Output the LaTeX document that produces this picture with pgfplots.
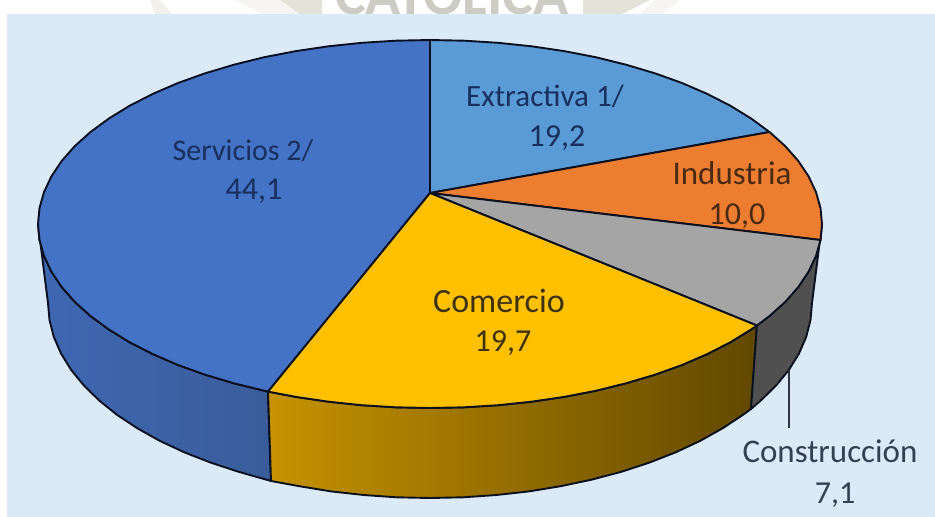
\documentclass[border=0pt]{standalone}
\usepackage{pgfplots}
\pgfplotsset{compat=1.18}
\usepackage{fontspec}
\setmainfont{Carlito}
\definecolor{bgblue}{HTML}{DCE9F6}
\definecolor{wm}{HTML}{E4E3DA}
\definecolor{serv}{HTML}{4472C4}
\definecolor{servA}{HTML}{3F68B2}
\definecolor{servB}{HTML}{3A5C9A}
\definecolor{ext}{HTML}{5B9BD5}
\definecolor{ind}{HTML}{ED7D31}
\definecolor{con}{HTML}{A5A5A5}
\definecolor{conW}{HTML}{505050}
\definecolor{com}{HTML}{FFC000}
\definecolor{comA}{HTML}{C69200}
\definecolor{comM}{HTML}{8C6A00}
\definecolor{comB}{HTML}{614800}
\definecolor{edge}{HTML}{0A1020}
\definecolor{txt}{HTML}{34404F}
\definecolor{tblue}{HTML}{17305F}
\definecolor{tbrown}{HTML}{4A2A12}
\definecolor{tgold}{HTML}{3D3310}
\begin{document}
\begin{tikzpicture}
\begin{axis}[
  scale only axis, width=935pt, height=517pt,
  xmin=0, xmax=935, ymin=0, ymax=517, y dir=reverse,
  hide axis, clip=true,
  every axis plot/.append style={line join=round},
]
% page and background
\addplot[fill=white, draw=none] coordinates {(0,0)(935,0)(935,517)(0,517)} --cycle;
\addplot[fill=wm!50!white, draw=none] coordinates {(150,0)(160,0)(172,14)(155,14)} --cycle;
\addplot[fill=wm!35!white, draw=none] coordinates {(235,0)(280,0)(300,14)(262,14)} --cycle;
\addplot[fill=wm, draw=none] coordinates {(280,0)(322,0)(322,14)(300,14)} --cycle;
\addplot[fill=wm, draw=none] coordinates {(583,0)(650,0)(622,14)(583,14)} --cycle;
\addplot[fill=wm!35!white, draw=none] coordinates {(655,0)(680,0)(662,14)(640,14)} --cycle;
\node[overlay, text=wm!90!black, font=\fontsize{58}{58}\bfseries\selectfont, anchor=base, inner sep=0pt] at (axis cs:452,14) {CATOLICA};
\addplot[fill=bgblue, draw=none] coordinates {(7,14)(935,14)(935,517)(7,517)} --cycle;
% walls
\addplot[left color=servA, right color=servB, draw=edge, line width=1.9pt] coordinates {
(38,224)(39.5,240)(44,255.9)(51.4,271.6)(61.6,286.9)(74.7,301.8)(90.5,316)(108.9,329.5)(129.7,342.3)(152.8,354.1)(178,365)(205.1,374.7)(234,383.3)(268,391.6)
(271,481)(239,471.9)(210.9,462.7)(184.5,452.4)(159.9,440.9)(137.4,428.3)(117.1,414.9)(99.2,400.5)(83.8,385.4)(71,369.7)(61,353.5)(53.8,336.9)(49.5,320)(48,303)} --cycle;
\addplot[left color=comA, middle color=comM, right color=comB, draw=edge, line width=1.9pt] coordinates {
(268,391.6)(295.9,396.9)(328.5,401.7)(361.9,405.2)(395.8,407.3)(430,408)(464.2,407.3)(498.1,405.2)(531.5,401.7)(564.1,396.9)(595.7,390.8)(626,383.3)(654.9,374.7)(682,365)(707.2,354.1)(730.3,342.3)(751.1,329.5)(756.9,325.5)
(751,409)(742.9,414.9)(722.6,428.3)(700.1,440.9)(675.5,452.4)(649.1,462.7)(621,471.9)(591.4,479.7)(560.6,486.2)(528.9,491.4)(496.3,495)(463.3,497.3)(430,498)(396.7,497.3)(363.7,495)(331.1,491.4)(299.4,486.2)(271,481)} --cycle;
\addplot[fill=conW, draw=edge, line width=1.9pt] coordinates {
(756.9,325.5)(769.5,316)(785.3,301.8)(798.4,286.9)(808.6,271.6)(816,255.9)(820.5,240)(822,224)
(812,303)(810.5,320)(806.2,336.9)(799,353.5)(789,369.7)(776.2,385.4)(760.8,400.5)(751,409)} --cycle;
% top slices
\addplot[fill=serv, draw=edge, line width=1.9pt] coordinates {
(430,193)(268,391.6)(234,383.3)(205.1,374.7)(178,365)(152.8,354.1)(129.7,342.3)(108.9,329.5)(90.5,316)(74.7,301.8)(61.6,286.9)(51.4,271.6)(44,255.9)(39.5,240)(38,224)(39.5,208)(44,192.1)(51.4,176.4)(61.6,161.1)(74.7,146.2)(90.5,132)(108.9,118.5)(129.7,105.7)(152.8,93.9)(178,83)(205.1,73.3)(234,64.7)(264.3,57.2)(295.9,51.1)(328.5,46.3)(361.9,42.8)(395.8,40.7)(430,40)} --cycle;
\addplot[fill=ext, draw=edge, line width=1.9pt] coordinates {
(430,193)(430,40)(464.2,40.7)(498.1,42.8)(531.5,46.3)(564.1,51.1)(595.7,57.2)(626,64.7)(654.9,73.3)(682,83)(707.2,93.9)(730.3,105.7)(751.1,118.5)(769.5,132)} --cycle;
\addplot[fill=ind, draw=edge, line width=1.9pt] coordinates {
(430,193)(769.5,132)(785.3,146.2)(798.4,161.1)(808.6,176.4)(816,192.1)(820.5,208)(822,224)(820.5,240)} --cycle;
\addplot[fill=con, draw=edge, line width=1.9pt] coordinates {
(430,193)(820.5,240)(816,255.9)(808.6,271.6)(798.4,286.9)(785.3,301.8)(769.5,316)(756.9,325.5)} --cycle;
\addplot[fill=com, draw=edge, line width=1.9pt] coordinates {
(430,193)(756.9,325.5)(751.1,329.5)(730.3,342.3)(707.2,354.1)(682,365)(654.9,374.7)(626,383.3)(595.7,390.8)(564.1,396.9)(531.5,401.7)(498.1,405.2)(464.2,407.3)(430,408)(395.8,407.3)(361.9,405.2)(328.5,401.7)(295.9,396.9)(268,391.6)} --cycle;
% leader line
\addplot[draw=edge!85!white, line width=2pt] coordinates {(789,370)(789,428)};
% labels
\tikzset{lab/.style={anchor=base, inner sep=0pt}}
\node[lab, text=tblue, font=\fontsize{30}{30}\selectfont] at (axis cs:243,160) {Servicios 2/};
\node[lab, text=tblue, font=\fontsize{32}{32}\selectfont] at (axis cs:254,199) {44,1};
\node[lab, text=tblue, font=\fontsize{31}{31}\selectfont] at (axis cs:545,106) {Extractiva 1/};
\node[lab, text=tblue, font=\fontsize{32}{32}\selectfont] at (axis cs:557,146) {19,2};
\node[lab, text=tbrown, font=\fontsize{33}{33}\selectfont] at (axis cs:732,184) {Industria};
\node[lab, text=tbrown, font=\fontsize{32}{32}\selectfont] at (axis cs:737,224) {10,0};
\node[lab, text=tgold, font=\fontsize{34}{34}\selectfont] at (axis cs:499,312) {Comercio};
\node[lab, text=tgold, font=\fontsize{32}{32}\selectfont] at (axis cs:503,351) {19,7};
\node[lab, text=txt, font=\fontsize{33}{33}\selectfont] at (axis cs:830,462) {Construcción};
\node[lab, text=txt, font=\fontsize{32}{32}\selectfont] at (axis cs:835,503) {7,1};
\end{axis}
\end{tikzpicture}
\end{document}
